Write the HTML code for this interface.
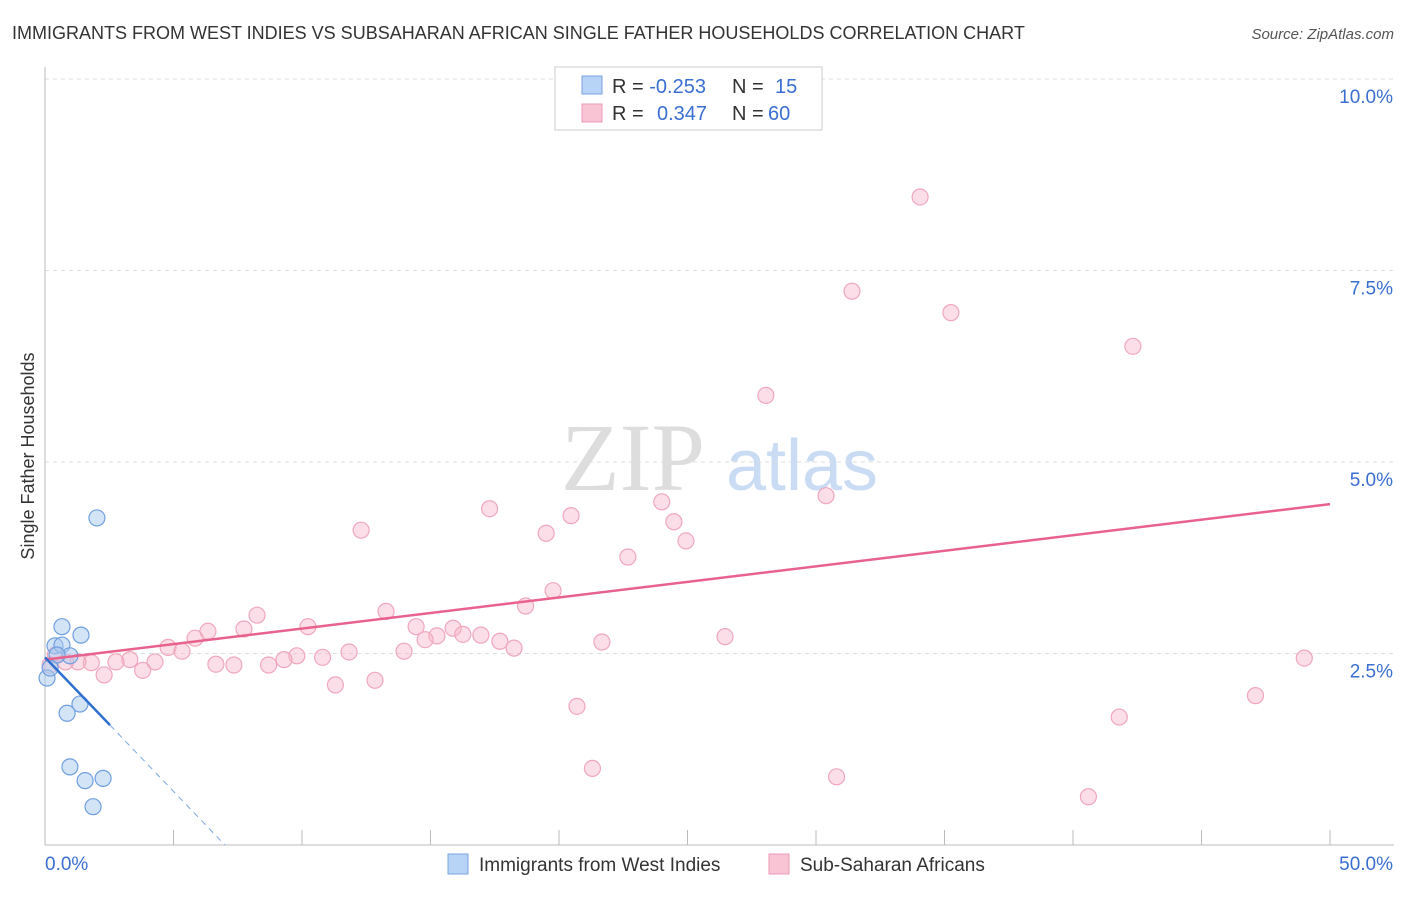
<!DOCTYPE html>
<html><head><meta charset="utf-8"><style>
body{margin:0;background:#fff;font-family:"Liberation Sans",sans-serif;}
svg text{font-family:"Liberation Sans",sans-serif;}
</style></head><body>
<svg width="1406" height="892" xmlns="http://www.w3.org/2000/svg">
<text x="12" y="39" font-size="18" fill="#333">IMMIGRANTS FROM WEST INDIES VS SUBSAHARAN AFRICAN SINGLE FATHER HOUSEHOLDS CORRELATION CHART</text>
<text x="1394" y="39" font-size="15" fill="#555" text-anchor="end" font-style="italic">Source: ZipAtlas.com</text>
<text x="0" y="0" transform="translate(34,456) rotate(-90)" font-size="18" fill="#333" text-anchor="middle">Single Father Households</text>
<g>
<text x="633" y="490" font-size="96" fill="#ddd" font-family="Liberation Serif" text-anchor="middle" style="font-family:'Liberation Serif',serif">ZIP</text>
<text x="802" y="490" font-size="72" fill="#c9dcf3" text-anchor="middle">atlas</text>
</g>
<g id="grid"></g><g id="axes"></g><g id="pts"></g><g id="lines"></g>
<g>
<rect x="555" y="67" width="267" height="63" fill="#fff" stroke="#ccc"/>
<rect x="582" y="76" width="20" height="18" fill="#b7d3f5" stroke="#7aa6e0"/>
<rect x="582" y="104" width="20" height="18" fill="#f9c5d4" stroke="#eb9ab3"/>
<text x="612" y="93" font-size="20" fill="#333">R = <tspan fill="#3a6fd1">-0.253</tspan><tspan x="732">N = </tspan><tspan fill="#3a6fd1" x="775">15</tspan></text>
<text x="612" y="120" font-size="20" fill="#333">R = <tspan fill="#3a6fd1" x="657">0.347</tspan><tspan x="732">N = </tspan><tspan fill="#3a6fd1" x="768">60</tspan></text>
</g>
<g>
<rect x="448" y="854" width="20" height="20" fill="#b7d3f5" stroke="#7aa6e0"/>
<text x="479" y="871" font-size="19" fill="#333">Immigrants from West Indies</text>
<rect x="769" y="854" width="20" height="20" fill="#f9c5d4" stroke="#eb9ab3"/>
<text x="800" y="871" font-size="19" fill="#333">Sub-Saharan Africans</text>
</g>
</svg>
<script>
const yTicks=[2.5,5.0,7.5,10.0];
const yTickLabels=["2.5%","5.0%","7.5%","10.0%"];
const blueX=[2.02,0.66,1.40,0.39,0.66,0.97,0.47,0.08,0.2,1.36,0.86,0.97,1.56,2.26,1.87];
const blueY=[4.27,2.85,2.74,2.60,2.61,2.47,2.48,2.18,2.31,1.84,1.72,1.02,0.84,0.87,0.50];
const pinkX=[34.05,31.4,35.25,42.33,28.05,30.39,24.0,17.3,20.47,24.47,12.3,19.5,24.94,22.68,19.77,18.7,13.27,8.25,10.23,7.74,6.34,14.44,15.88,16.26,15.25,16.96,14.79,17.7,26.46,21.67,18.25,5.84,4.79,5.33,11.83,13.97,9.8,10.8,9.3,8.7,7.35,6.65,4.28,3.3,2.76,3.8,2.3,1.8,1.28,0.8,0.4,0.2,11.3,12.84,20.7,21.3,30.8,40.6,41.8,47.1,49.0];
const pinkY=[8.46,7.23,6.95,6.51,5.87,4.56,4.48,4.39,4.30,4.22,4.11,4.07,3.97,3.76,3.32,3.12,3.05,3.0,2.85,2.82,2.79,2.85,2.83,2.75,2.73,2.74,2.68,2.66,2.72,2.65,2.57,2.70,2.58,2.53,2.52,2.53,2.47,2.45,2.42,2.35,2.35,2.36,2.39,2.42,2.39,2.28,2.22,2.38,2.39,2.39,2.48,2.35,2.09,2.15,1.81,1.0,0.89,0.63,1.67,1.95,2.44];
const pinkTrend=[2.42,4.45];
const blueTrend=[2.45,-0.35];
const NS="http://www.w3.org/2000/svg";
const sx=v=>45+v*25.7, sy=v=>845-v*76.6;
function mk(t,a,p){const e=document.createElementNS(NS,t);for(const k in a)e.setAttribute(k,a[k]);document.getElementById(p).appendChild(e);return e;}
yTicks.forEach((t,i)=>{
 const g=mk('line',{x1:45,x2:1394,y1:sy(t),y2:sy(t),stroke:'#ddd','stroke-dasharray':'4,4'},'grid');
 
 
 const l=mk('text',{x:1393,y:sy(t)+24,'font-size':19,fill:'#3a6fd1','text-anchor':'end'},'grid');
 l.textContent=yTickLabels[i];
 
 
});
mk('line',{x1:45,x2:45,y1:67,y2:845,stroke:'#bbb'},'axes');
mk('line',{x1:45,x2:1394,y1:845,y2:845,stroke:'#bbb'},'axes');
for(let i=1;i<=10;i++){const t=mk('line',{x1:sx(i*5),x2:sx(i*5),y1:830,y2:845,stroke:'#bbb'},'axes');
 
 }
let a=mk('text',{x:45,y:870,'font-size':19,fill:'#3a6fd1'},'axes');a.textContent='0.0%';


a=mk('text',{x:1393,y:870,'font-size':19,fill:'#3a6fd1','text-anchor':'end'},'axes');a.textContent='50.0%';


pinkX.forEach((x,i)=>{const c=mk('circle',{cx:sx(x),cy:sy(pinkY[i]),r:8,fill:'rgba(247,182,201,0.45)',stroke:'#f0a7bd','stroke-width':1.2},'pts');
 
 });
blueX.forEach((x,i)=>{const c=mk('circle',{cx:sx(x),cy:sy(blueY[i]),r:8,fill:'rgba(170,201,240,0.5)',stroke:'#6f9fe0','stroke-width':1.2},'pts');
 
 });
let p=mk('line',{x1:sx(0),y1:sy(pinkTrend[0]),x2:sx(50),y2:sy(pinkTrend[1]),stroke:'#e8628d','stroke-width':2.5},'lines');


const bEnd=2.53, bZero=-blueTrend[0]/blueTrend[1];
p=mk('line',{x1:sx(0),y1:sy(blueTrend[0]),x2:sx(bEnd),y2:sy(blueTrend[0]+blueTrend[1]*bEnd),stroke:'#2f6fd0','stroke-width':2.5},'lines');


p=mk('line',{x1:sx(bEnd),y1:sy(blueTrend[0]+blueTrend[1]*bEnd),x2:sx(bZero),y2:sy(0),stroke:'#7aa6e0','stroke-width':1,'stroke-dasharray':'6,5'},'lines');


</script>
</body></html>
